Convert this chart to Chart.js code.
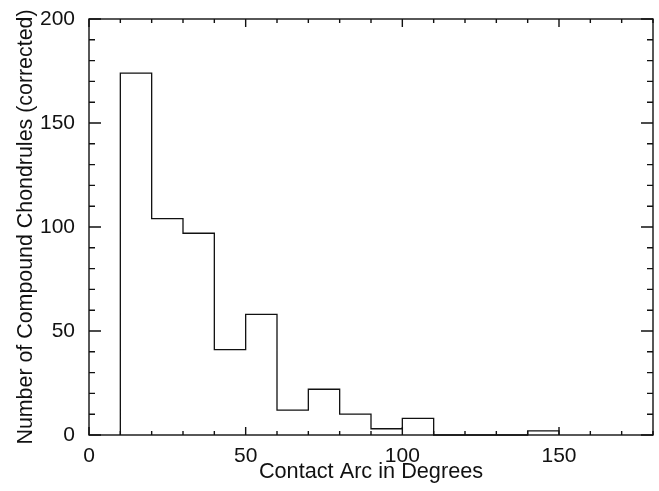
<!DOCTYPE html>
<html>
<head>
<meta charset="utf-8">
<script src="https://cdn.jsdelivr.net/npm/chart.js@4/dist/chart.umd.min.js"></script>
<style>
  html, body { margin: 0; padding: 0; background: #fff; }
  #wrap { width: 659px; height: 491px; }
</style>
</head>
<body>
<div id="wrap"><canvas id="hist"></canvas></div>
<script>
// histogram bins (left edges, width 10 deg) and counts
const binStarts = [10, 20, 30, 40, 50, 60, 70, 80, 90, 100, 110, 120, 130, 140];
const binWidth = 10;
const counts = [174, 104, 97, 41, 58, 12, 22, 10, 3, 8, 0, 0, 0, 2];

const xTicks = [0, 50, 100, 150];
const yTicks = [0, 50, 100, 150, 200];

// outline points for a stepped line
const pts = [{x: binStarts[0], y: 0}];
binStarts.forEach((b, i) => pts.push({x: b, y: counts[i]}));
const lastEdge = binStarts[binStarts.length - 1] + binWidth;
pts.push({x: lastEdge, y: counts[counts.length - 1]});
pts.push({x: lastEdge, y: 0});

const ink = '#111';
const fontFam = '"Liberation Sans", Arial, Helvetica, sans-serif';

// frame + inward ticks on all four sides
const idlAxes = {
  id: 'idlAxes',
  afterDatasetsDraw(chart) {
    const {ctx, chartArea: a, scales: {x, y}} = chart;
    ctx.save();
    ctx.strokeStyle = ink;
    ctx.lineWidth = 1.4;
    ctx.strokeRect(a.left, a.top, a.right - a.left, a.bottom - a.top);
    ctx.beginPath();
    for (let v = 0; v <= 180; v += 10) {
      const px = x.getPixelForValue(v);
      const len = v % 50 === 0 ? 8 : 4;
      ctx.moveTo(px, a.bottom); ctx.lineTo(px, a.bottom - len);
      ctx.moveTo(px, a.top); ctx.lineTo(px, a.top + len);
    }
    for (let v = 0; v <= 200; v += 10) {
      const py = y.getPixelForValue(v);
      const len = v % 50 === 0 ? 12 : 6;
      ctx.moveTo(a.left, py); ctx.lineTo(a.left + len, py);
      ctx.moveTo(a.right, py); ctx.lineTo(a.right - len, py);
    }
    ctx.stroke();
    ctx.restore();
  }
};

new Chart(document.getElementById('hist'), {
  type: 'line',
  data: {
    datasets: [{
      data: pts,
      stepped: 'before',
      borderColor: ink,
      borderWidth: 1.3,
      pointRadius: 0,
      fill: false,
      clip: false
    }]
  },
  options: {
    responsive: true,
    maintainAspectRatio: false,
    animation: false,
    layout: { padding: { top: 19, right: 6, left: 0, bottom: 0 } },
    plugins: { legend: { display: false }, tooltip: { enabled: false } },
    scales: {
      x: {
        type: 'linear',
        min: 0,
        max: 180,
        afterBuildTicks: s => { s.ticks = xTicks.map(v => ({value: v})); },
        afterFit: s => { s.height = 56; },
        grid: { display: false },
        border: { display: false },
        ticks: { color: ink, padding: 1, maxRotation: 0, font: { family: fontFam, size: 21 } },
        title: {
          display: true,
          text: 'Contact Arc in Degrees',
          color: ink,
          padding: { top: 0, bottom: 6 },
          font: { family: fontFam, size: 21.7 }
        }
      },
      y: {
        min: 0,
        max: 200,
        afterBuildTicks: s => { s.ticks = yTicks.map(v => ({value: v})); },
        afterFit: s => { s.width = 89; },
        grid: { display: false },
        border: { display: false },
        ticks: { color: ink, padding: 6, font: { family: fontFam, size: 21 } },
        title: {
          display: true,
          text: 'Number of Compound Chondrules (corrected)',
          color: ink,
          padding: { top: 13, bottom: 0 },
          font: { family: fontFam, size: 21.4 }
        }
      }
    }
  },
  plugins: [idlAxes]
});
</script>
</body>
</html>
